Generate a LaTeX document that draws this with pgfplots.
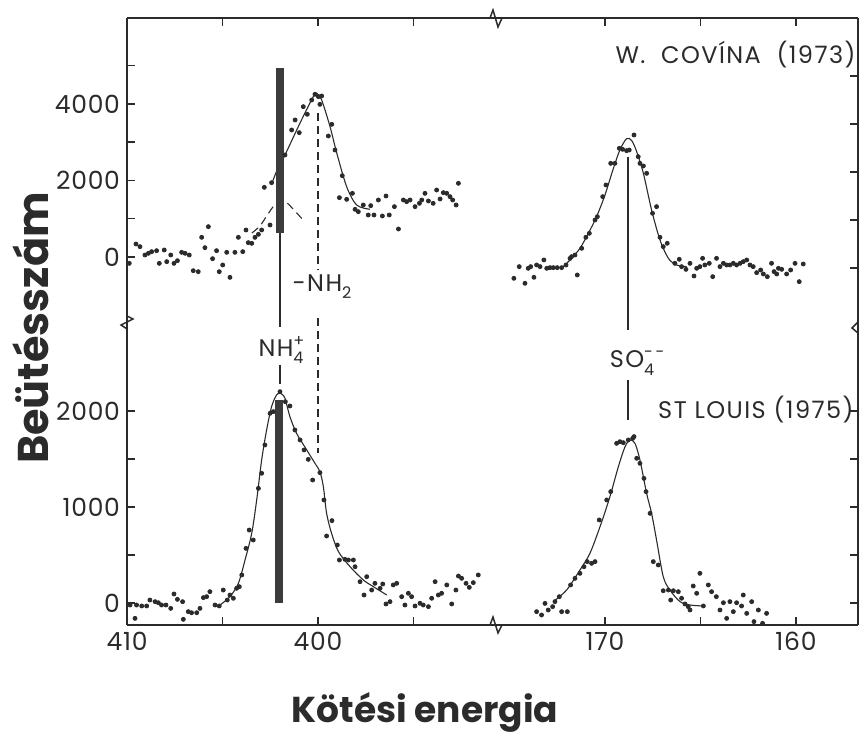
\documentclass[border=0pt]{standalone}
\usepackage{fontspec}
\setmainfont{Poppins}
\usepackage{pgfplots}
\pgfplotsset{compat=1.18}
\definecolor{ink}{HTML}{2B2B2B}
\definecolor{barc}{HTML}{3C3C3C}
\newcommand{\chem}[3]{#1\makebox[0pt][l]{\raisebox{0.8ex}{\fontsize{8}{8}\selectfont #3}}\raisebox{-0.55ex}{\fontsize{8}{8}\selectfont #2}}
\newcommand{\lab}{\fontsize{12}{14}\selectfont\addfontfeatures{LetterSpace=6}}
\pgfplotsset{
  brk/.style={scale only axis, enlargelimits=false, clip=true,
    axis line style={ink, line width=0.75pt, -},
    tick style={ink, line width=0.75pt},
    major tick length=4pt, minor tick length=4pt,
    tick align=inside,
    /pgf/number format/assume math mode=true,
    /pgf/number format/1000 sep={},
    tick label style={font=\fontsize{12.5}{14}\selectfont\addfontfeatures{LetterSpace=3}, text=ink},
    x dir=reverse},
  dots/.style={only marks, mark=*, mark size=1pt, ink},
  fit/.style={no marks, smooth, ink, line width=0.55pt},
}
\begin{document}
\begin{tikzpicture}
\useasboundingbox (0,0) rectangle (429.5pt,368.5pt);
% ---------- upper left ----------
\begin{axis}[brk, at={(63.5pt,207.5pt)}, anchor=south west, width=185pt, height=152pt,
  xmin=390.63, xmax=410, ymin=-1699, ymax=6248,
  axis x line*=top, axis y line*=left,
  xtick={405,400,395}, xticklabels={},
  ytick={0,2000,4000}, minor ytick={1000,3000,5000}]
\addplot[dots] coordinates {
(409.88,-166)(409.53,340)(409.32,270)(409.06,52)(408.88,96)(408.71,139)(408.45,165)(408.31,-166)
(408.05,183)(407.92,-122)(407.71,52)(407.54,-166)(407.36,-96)(407.14,122)(406.96,96)(406.74,52)
(406.53,-358)(406.27,-384)(406.09,514)(405.92,244)(405.74,793)(405.52,-44)(405.31,165)(405.17,-384)
(404.99,-209)(404.78,122)(404.61,-532)(404.35,122)(404.17,514)(403.94,139)(403.77,706)(403.65,375)
(403.47,357)(403.30,514)(403.12,592)(402.95,706)(402.81,1821)(402.51,836)(402.43,1943)
(401.73,2667)(401.38,3320)(401.20,3582)(400.98,3250)(400.77,3930)(400.56,3730)(400.33,4104)
(400.16,4253)(399.98,4192)(399.90,3991)(399.81,4209)(399.46,3163)(399.28,3468)(399.11,2797)
(398.73,2126)(398.88,1551)(398.50,1507)(398.20,1664)(398.06,1246)(397.89,1185)(397.63,1359)
(397.37,1098)(397.24,1342)(397.07,1098)(396.84,1490)(396.63,1072)(396.44,1595)(396.27,1098)
(396.00,1316)(395.79,732)(395.53,1490)(395.36,1446)(395.18,1490)(394.92,1316)(394.69,1403)
(394.57,1490)(394.40,1664)(394.22,1464)(393.97,1403)(393.79,1751)(393.61,1516)(393.44,1682)
(393.26,1664)(393.09,1577)(392.95,1490)(392.77,1359)(392.65,1926)};
\addplot[fit] coordinates {
(402.43,1900)(402.16,2250)(401.73,2667)(400.94,3503)(400.25,4191)(400.07,4280)(399.81,4105)
(399.37,3407)(399.02,2719)(398.50,1838)(397.98,1359)(397.28,1247)};
\addplot[no marks, smooth, ink, line width=0.55pt, dash pattern=on 4pt off 2.5pt] coordinates {
(403.46,627)(403.04,810)(402.72,1046)(402.36,1307)(401.99,1490)(401.62,1412)(401.26,1229)(400.68,915)};
\addplot[barc, line width=4pt] coordinates {(402.0,627)(402.0,4941)};
\end{axis}
% ---------- upper right ----------
\begin{axis}[brk, at={(248.5pt,207.5pt)}, anchor=south west, width=180.5pt, height=152pt,
  xmin=156.754, xmax=175.654, ymin=-1125, ymax=5208,
  axis x line*=top, axis y line*=right,
  xtick={170,165,160}, xticklabels={},
  ytick={0,1000,2000,3000,4000}, yticklabels={}]
\addplot[dots] coordinates {
(174.77,-215)(174.49,28)(174.19,-319)(174.02,-7)(173.89,28)(173.72,-194)(173.58,63)(173.40,28)
(173.20,167)(173.05,-7)(172.88,7)(172.71,7)(172.50,7)(172.27,7)(172.04,63)(171.83,201)(171.75,236)
(171.57,271)(171.45,-146)(171.22,410)(171.00,639)(170.82,722)(170.52,1000)(170.40,1069)(170.12,1486)
(169.95,1729)(169.70,2180)(169.48,2180)(169.25,2493)(169.08,2472)(168.87,2444)(168.73,2458)
(168.48,2771)(168.26,2319)(168.17,2180)(167.99,2125)(167.82,1972)(167.51,1139)(167.30,1278)
(167.12,639)(166.95,444)(166.74,514)(166.34,97)(166.11,181)(165.99,28)(165.76,-28)(165.55,97)
(165.34,-167)(165.20,-7)(165.03,28)(164.89,201)(164.77,63)(164.54,97)(164.36,-181)(164.16,201)
(163.98,28)(163.80,97)(163.63,63)(163.46,63)(163.28,97)(163.11,63)(162.93,97)(162.76,132)
(162.58,167)(162.41,63)(162.24,28)(162.06,-97)(161.85,-42)(161.71,-125)(161.50,-181)(161.28,97)
(161.15,-76)(161.01,-125)(160.92,-7)(160.75,-28)(160.49,-125)(160.28,-42)(160.05,97)(159.83,-285)(159.62,83)};
\addplot[fit] coordinates {
(172.18,28)(171.75,201)(171.31,410)(170.87,722)(170.44,1069)(170.00,1521)(169.56,2076)(169.22,2458)
(168.87,2694)(168.60,2653)(168.34,2423)(167.99,1972)(167.56,1208)(167.12,583)(166.68,201)(166.25,62)(165.72,28)};
\end{axis}
% ---------- lower left ----------
\begin{axis}[brk, at={(63.5pt,56pt)}, anchor=south west, width=185pt, height=151.5pt,
  xmin=390.63, xmax=410, ymin=-229, ymax=2927,
  axis x line*=bottom, axis y line*=left,
  xtick={410,400}, minor xtick={405,395},
  ytick={0,1000,2000}, minor ytick={500,1500}]
\addplot[dots] coordinates {
(410.02,-21)(409.84,-21)(409.58,-160)(409.50,-21)(409.23,-31)(408.97,-31)(408.80,31)(408.53,14)
(408.36,3)(408.19,-21)(407.96,-21)(407.71,-56)(407.54,94)(407.36,38)(407.09,14)(407.05,-170)
(406.79,-90)(406.62,-101)(406.35,-101)(406.18,-56)(406.00,56)(405.83,66)(405.66,118)(405.39,-21)
(405.17,-31)(404.96,135)(404.75,31)(404.61,83)(404.43,49)(404.26,153)(404.12,170)(403.99,292)
(403.77,569)(403.60,760)(403.39,656)(403.12,1194)(402.95,1351)(402.78,1646)(402.51,1976)(402.34,1993)
(401.99,2201)(401.71,2097)(401.47,2052)(401.21,1802)(400.94,1698)(400.73,1594)(400.51,1496)
(400.28,1281)(399.90,1358)(399.69,1073)(399.55,698)(399.27,858)(398.99,604)(398.88,448)(398.59,455)
(398.41,448)(398.15,448)(398.06,378)(397.80,222)(397.59,83)(397.45,274)(397.19,135)(397.02,205)
(396.75,153)(396.61,198)(396.44,-10)(396.23,14)(396.06,188)(395.88,205)(395.62,66)(395.45,-21)
(395.27,101)(395.10,66)(394.92,-31)(394.66,-3)(394.49,-21)(394.22,-38)(394.05,49)(393.87,222)
(393.70,83)(393.53,101)(393.26,188)(393.00,-10)(392.78,135)(392.65,281)(392.48,257)(392.25,205)
(392.08,163)(391.87,212)(391.61,292)};
\addplot[fit] coordinates {
(405.13,-21)(404.61,66)(404.17,205)(403.82,448)(403.47,726)(403.21,1073)(402.95,1490)(402.69,1802)
(402.43,2045)(402.17,2167)(401.96,2184)(401.73,2132)(401.47,1941)(401.12,1767)(400.59,1594)
(400.16,1455)(399.90,1368)(399.72,1212)(399.55,934)(399.29,726)(398.93,535)(398.32,378)(397.63,240)
(397.10,170)(396.40,83)};
\addplot[barc, line width=4pt] coordinates {(402.04,0)(402.04,2115)};
\end{axis}
% ---------- lower right ----------
\begin{axis}[brk, at={(248.5pt,56pt)}, anchor=south west, width=180.5pt, height=151.5pt,
  xmin=156.754, xmax=175.654, ymin=-229, ymax=2927,
  axis x line*=bottom, axis y line*=right,
  xtick={170,160}, minor xtick={165},
  ytick={0,500,1000,1500,2000}, yticklabels={}]
\addplot[dots] coordinates {
(173.58,-90)(173.32,-125)(173.14,-4)(172.97,-73)(172.74,-38)(172.62,14)(172.39,66)(172.27,-90)
(171.97,-90)(171.80,188)(171.57,257)(171.31,309)(171.10,378)(170.93,431)(170.70,413)(170.52,431)
(170.30,865)(169.91,1073)(169.70,1160)(169.39,1663)(169.22,1680)(169.04,1670)(168.78,1698)
(168.55,1715)(168.48,1733)(168.34,1507)(168.17,1455)(167.96,1298)(167.85,1160)(167.64,934)
(167.47,431)(167.21,396)(166.95,128)(166.68,135)(166.56,31)(166.42,128)(166.16,118)(165.99,49)
(165.81,-10)(165.64,-38)(165.55,-73)(165.38,177)(165.20,101)(165.03,309)(164.85,-31)(164.59,188)
(164.42,118)(164.17,66)(163.98,-73)(163.80,3)(163.63,-160)(163.46,14)(163.28,-90)(163.11,3)
(162.85,-31)(162.76,83)(162.58,-108)(162.32,14)(162.20,-194)(161.97,-73)(161.75,-212)(161.54,-108)};
\addplot[fit] coordinates {
(172.71,14)(172.01,135)(171.31,344)(170.79,517)(170.26,795)(169.74,1108)(169.30,1420)(168.95,1628)
(168.69,1698)(168.43,1663)(168.17,1490)(167.82,1142)(167.56,934)(167.30,656)(166.95,274)(166.60,135)
(166.07,14)(165.55,-21)(164.85,-31)};
\end{axis}
% ---------- annotations in image pixel coordinates ----------
\begin{scope}[x=0.5pt, y=-0.5pt, shift={(0pt,368.5pt)}]
\draw[ink, line width=0.55pt] (280,233) -- (280,327);
\draw[ink, line width=0.55pt] (280,365) -- (280,384);
\draw[ink, line width=0.55pt, dash pattern=on 4pt off 2.5pt] (318,113) -- (318,270);
\draw[ink, line width=0.55pt, dash pattern=on 4pt off 2.5pt] (318,318) -- (318,453);
\draw[ink, line width=0.55pt] (628,157) -- (628,330);
\draw[ink, line width=0.55pt] (628,380) -- (628,420);
% break marks
\draw[ink, line width=0.75pt] (490,18) -- (493,10) -- (498,27) -- (502,18);
\draw[ink, line width=0.75pt] (490,625) -- (493,617) -- (498,633) -- (502,625);
\draw[ink, line width=0.75pt] (127,316) -- (133,319) -- (121,325) -- (127,329);
\draw[ink, line width=0.75pt] (858,322) -- (852,328) -- (858,333);
% labels
\node[anchor=east, text=ink, font=\lab, inner sep=0pt] at (856,55) {W.\ \ COVÍNA\ \ (1973)};
\node[anchor=east, text=ink, font=\lab, inner sep=0pt] at (854,410) {ST LOUIS (1975)};
\node[text=ink, font=\lab] at (281,350) {\chem{NH}{4}{+}};
\node[text=ink, font=\lab] at (632,363) {\chem{SO}{4}{-\,-}};
\node[text=ink, font=\lab] at (322,287) {-NH\raisebox{-0.55ex}{\fontsize{8}{8}\selectfont 2}};
\node[rotate=90, text=ink, font=\bfseries\fontsize{21.5}{24}\selectfont] at (31,328) {Beütésszám};
\node[text=ink, font=\bfseries\fontsize{18}{22}\selectfont] at (425,712) {Kötési energia};
\end{scope}
\end{tikzpicture}
\end{document}
